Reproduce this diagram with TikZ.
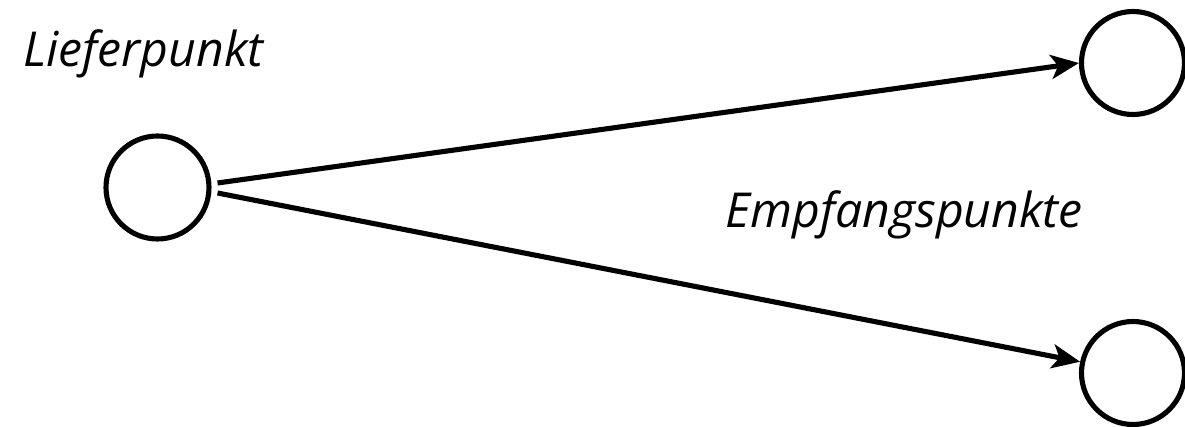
\documentclass[tikz,border=0pt]{standalone}
\usepackage{fontspec}
\setmainfont{Open Sans}
\usetikzlibrary{arrows.meta, positioning}

\begin{document}
\begin{tikzpicture}[
  pt/.style={draw, circle, line width=1.45pt, minimum size=1.03cm, inner sep=0pt},
  lbl/.style={anchor=base west, inner sep=0pt, font=\itshape\fontsize{13.7}{16}\selectfont},
  arr/.style={-{Stealth[length=0.28cm, width=0.24cm, inset=0.07cm]}, line width=1.45pt}
]
  \useasboundingbox (0,0) rectangle (11.85,4.27);
  \node[pt] (lp) at (1.575,2.395) {};
  \node[pt] (e1) at (11.33,3.64) {};
  \node[pt] (e2) at (11.33,0.54) {};
  \node[lbl] (tl) at (0.23,3.60) {Lieferpunkt};
  \node[lbl] (te) at (7.25,1.99) {Empfangspunkte};
  \draw[arr] ([shift={(0.06,0.045)}]lp.east) -- (e1.west);
  \draw[arr] ([shift={(0.06,-0.055)}]lp.east) -- (e2.168);
\end{tikzpicture}
\end{document}
